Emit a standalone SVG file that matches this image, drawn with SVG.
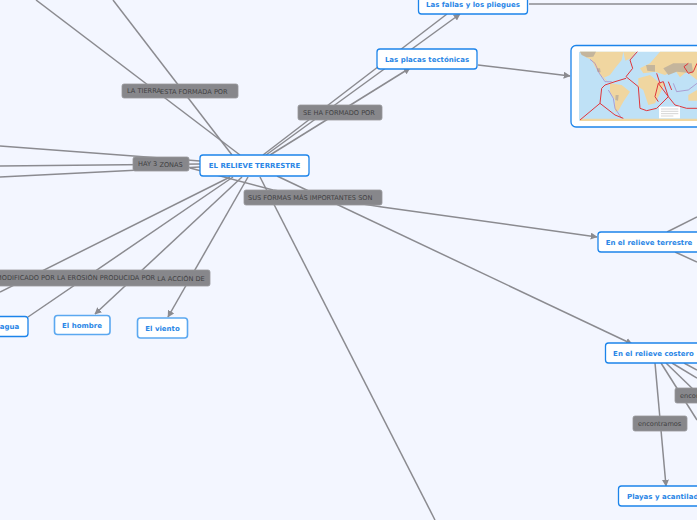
<svg xmlns="http://www.w3.org/2000/svg" width="697" height="520" viewBox="0 0 697 520">
<style>
.c{fill:none;stroke:#8b8b90;stroke-width:1.5}
.n{fill:#fff;stroke:#1c84ea;stroke-width:1.3}
.p{fill:#fff;stroke:#5ba8f0;stroke-width:1.6}
.t{font-family:"DejaVu Sans",sans-serif;font-size:7px;font-weight:bold;fill:#2a86e6;text-anchor:middle}
.l{fill:#87878b;stroke:#97979b;stroke-width:.8}
.lt{font-family:"DejaVu Sans",sans-serif;font-size:6.6px;fill:#3f3f42}
.land{fill:#f0d6a0}.grey{fill:#c4b59c}
.r{fill:none;stroke:#e0353a;stroke-width:3}
.v{fill:none;stroke:#a07cc0;stroke-width:2}
</style>
<defs>
<marker id="a" viewBox="0 0 10 10" refX="9" refY="5" markerWidth="7" markerHeight="7" markerUnits="userSpaceOnUse" orient="auto"><path d="M0 0L10 5L0 10Z" fill="#8b8b90"/></marker>
</defs>
<rect width="697" height="520" fill="#f3f6ff"/>
<g id="connectors">
<path class="c" d="M232 155L113 0"/>
<path class="c" d="M240 155L36 0"/>
<path class="c" d="M200 161L0 146"/>
<path class="c" d="M200 164L0 166"/>
<path class="c" d="M200 167L0 177"/>
<path class="c" d="M230 177L0 292"/>
<path class="c" d="M233 177L28 317"/>
<path class="c" d="M242 177L95 314" marker-end="url(#a)"/>
<path class="c" d="M248 177L168 317" marker-end="url(#a)"/>
<path class="c" d="M260 177L435 520"/>
<path class="c" d="M190 168L273 190L382 207L597 237" marker-end="url(#a)"/>
<path class="c" d="M277 176L632 344" marker-end="url(#a)"/>
<path class="c" d="M263 155L447 14"/>
<path class="c" d="M266 155L460 14" marker-end="url(#a)"/>
<path class="c" d="M270 155L410 68" marker-end="url(#a)"/>
<path class="c" d="M529 4H697"/>
<path class="c" d="M478 65L570 76" marker-end="url(#a)"/>
<path class="c" d="M667 232L697 217"/>
<path class="c" d="M675 252L697 262"/>
<path class="c" d="M655 363L666 486" marker-end="url(#a)"/>
<path class="c" d="M661 363L697 420"/>
<path class="c" d="M666 363L697 393"/>
<path class="c" d="M672 363L697 378"/>
<path class="c" d="M684 363L697 370"/>
</g>
<g id="label-tierra"><rect class="l" x="122" y="84" width="116" height="14" rx="2"/><text class="lt" x="127" y="93">LA TIERRA<tspan dx="-3" dy="1"> ESTA FORMADA POR</tspan></text></g>
<g id="label-formado"><rect class="l" x="298" y="105" width="84" height="15" rx="2"/><text class="lt" x="303" y="115">SE HA FORMADO POR</text></g>
<g id="label-zonas"><rect class="l" x="133" y="157" width="56" height="14" rx="2"/><text class="lt" x="138" y="165.500">HAY 3<tspan dy="1"> ZONAS</tspan></text></g>
<g id="label-formas"><rect class="l" x="244" y="190" width="138" height="15" rx="2"/><text class="lt" x="248" y="200">SUS FORMAS MÁS IMPORTANTES SON</text></g>
<g id="label-modificado"><rect class="l" x="-10" y="270" width="220" height="16" rx="2"/><text class="lt" x="-4" y="280">MODIFICADO POR LA EROSIÓN PRODUCIDA POR<tspan dy="1"> LA ACCIÓN DE</tspan></text></g>
<g id="label-enc1"><rect class="l" x="633" y="416" width="54" height="15" rx="2"/><text class="lt" x="638" y="426">encontramos</text></g>
<g id="label-enc2"><rect class="l" x="675" y="388" width="54" height="15" rx="2"/><text class="lt" x="680" y="398">encontramos</text></g>
<g id="node-relieve"><rect class="n" x="200" y="155" width="109" height="21" rx="3"/><text class="t" x="254.500" y="168">EL RELIEVE TERRESTRE</text></g>
<g id="node-fallas"><rect class="n" x="418.500" y="-7" width="109" height="21" rx="3"/><text class="t" x="473" y="7">Las fallas y los pliegues</text></g>
<g id="node-placas"><rect class="n" x="377" y="49" width="100" height="20" rx="3"/><text class="t" x="427" y="62">Las placas tectónicas</text></g>
<g id="node-mapa">
<rect class="n" x="571" y="45.500" width="140" height="81.500" rx="5" stroke-width="1.500"/>
<g transform="translate(560 40) scale(.3333)">
<rect x="57" y="35" width="354" height="208" rx="3" fill="#bfe1f6"/>
<path class="land" d="M60 35H190L185 60L165 85L150 105L132 113L145 125L135 120L118 100L105 80L95 60L75 50Z"/>
<path class="land" d="M190 35H228L212 55L196 62Z"/>
<path class="land" d="M150 130L185 135L210 155L190 185L175 212L165 215L165 180L150 155Z"/>
<path class="land" d="M235 115L270 105L295 125L315 130L295 170L285 190L265 195L250 150L235 140Z"/>
<path class="land" d="M240 85L270 70L300 35H411V120L380 95L360 112L345 90L315 105L285 95L250 100Z"/>
<path class="land" d="M385 165L411 150V182H385Z"/>
<path class="land" d="M60 236H411V243H60Z"/>
<path class="grey" d="M60 35H108L100 50L80 52L65 45Z"/>
<path class="grey" d="M258 75H285V95L262 92Z"/>
<path class="grey" d="M310 85L340 70L395 70L400 100L350 95L325 105Z"/>
<path class="grey" d="M110 85L120 85L122 97L112 95Z"/>
<path class="grey" d="M167 165L176 165L174 182L166 180Z"/>
<path class="v" d="M90 58L105 70L118 100L135 125L155 125M145 150L160 175L165 205L185 235M340 130L350 155L385 150L411 130"/>
<path class="r" d="M232 35L210 60L218 85L198 110L235 140L240 205L260 212L290 205L325 170L295 130L310 125L325 170L345 195L380 205L411 205"/>
<path class="r" d="M198 115L165 125L135 135L125 145L120 190L90 215L60 240"/>
<path class="r" d="M295 130L285 170L295 185M290 100L300 130M325 125L335 150"/>
<path class="r" d="M385 70L372 80L385 100L400 95L411 70M120 190L165 225L190 235"/>
<rect x="297" y="200" width="63" height="35" fill="#fff"/>
<path d="M303 207H355M303 214H355M303 221H355M303 228H340" stroke="#aaa" stroke-width="1.500"/>
</g>
</g>
<g id="node-terrestre"><rect class="n" x="598" y="232" width="104" height="20" rx="3"/><text class="t" x="649" y="245">En el relieve terrestre</text></g>
<g id="node-costero"><rect class="n" x="605.500" y="343" width="98" height="20" rx="3"/><text class="t" x="653.500" y="356">En el relieve costero</text></g>
<g id="node-playas"><rect class="n" x="618.500" y="486" width="100" height="20" rx="3"/><text class="t" x="627" y="499" style="text-anchor:start">Playas y acantilados</text></g>
<g id="node-agua"><rect class="n" x="-30" y="316.500" width="58" height="20" rx="3"/><text class="t" x="9.500" y="329">agua</text></g>
<g id="node-hombre"><rect class="p" x="54.500" y="315.500" width="55.500" height="19" rx="3"/><text class="t" x="82" y="328">El hombre</text></g>
<g id="node-viento"><rect class="p" x="137.500" y="318" width="50" height="20" rx="3"/><text class="t" x="162.500" y="331">El viento</text></g>
</svg>
